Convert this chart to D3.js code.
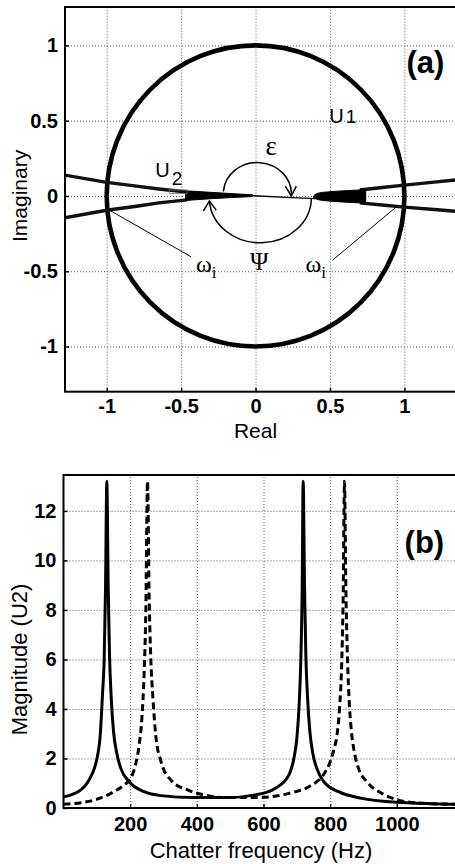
<!DOCTYPE html>
<html>
<head>
<meta charset="utf-8">
<script src="https://cdn.jsdelivr.net/npm/d3@7"></script>
<style>
  body { margin: 0; background: #fff; }
  svg { display: block; }
  text { font-family: "Liberation Sans", Arial, sans-serif; fill: #000; }
  .grid line { stroke: #555; stroke-dasharray: 1,2; stroke-width: 1; }
  .grid path { display: none; }
  .axis path { display: none; }
  .axis line { stroke: #000; stroke-width: 1.5; }
  .axis text { font-size: 20px; font-weight: bold; }
  .greek { font-family: "Liberation Serif", "DejaVu Serif", serif; }
</style>
</head>
<body>
<svg id="fig" width="455" height="864"></svg>
<script>
// ---- panel (a): complex plane ----
const realTicks = [-1, -0.5, 0, 0.5, 1];
const imagTicks = [-1, -0.5, 0, 0.5, 1];
const u1Radius = 1;
// U2 locus, [real, imag]
const u2LeftUpper = [[-1.3, 0.142], [-1.0, 0.09], [-0.8, 0.065], [-0.65, 0.046], [-0.46, 0.026]];
const u2LeftLower = [[-1.3, -0.148], [-1.0, -0.095], [-0.8, -0.068], [-0.65, -0.046], [-0.46, -0.026]];
const u2LeftWedge = [[-0.47, 0.034], [-0.3, 0.024], [-0.15, 0.015], [-0.02, 0.008], [-0.02, -0.004], [-0.15, -0.01], [-0.3, -0.018], [-0.47, -0.03]];
const u2Center = [[-0.02, 0.002], [0.2, -0.01], [0.4, -0.018]];
const u2RightWedge = [[0.39, 0.0], [0.41, 0.016], [0.45, 0.024], [0.55, 0.032], [0.7, 0.04], [0.74, 0.042], [0.74, -0.05], [0.7, -0.046], [0.55, -0.038], [0.45, -0.03], [0.41, -0.022], [0.39, -0.01]];
const u2RightUpper = [[0.7, 0.04], [0.85, 0.056], [1.0, 0.072], [1.2, 0.092], [1.4, 0.112]];
const u2RightLower = [[0.7, -0.046], [0.85, -0.06], [1.0, -0.074], [1.2, -0.09], [1.4, -0.106]];

// ---- panel (b): magnitude vs chatter frequency ----
const freqTicks = [200, 400, 600, 800, 1000];
const magTicks = [0, 2, 4, 6, 8, 10, 12];
const freqSolid = [0, 52, 82, 95, 102, 110, 117, 122, 126, 130, 134, 138, 143, 150, 160, 172, 197, 242, 292, 392, 491, 576, 636, 676, 691, 700, 707, 712, 716, 719, 723, 727, 732, 739, 748, 760, 781, 825, 895, 1005, 1174, 1200];
const magSolid  = [0.45, 0.73, 1.27, 1.7, 2.1, 2.9, 4.6, 6.0, 8.8, 13.2, 9.0, 6.2, 4.5, 3.1, 2.2, 1.6, 1.06, 0.66, 0.5, 0.42, 0.42, 0.53, 0.8, 1.33, 2.0, 2.8, 4.2, 6.0, 8.8, 13.2, 9.0, 6.2, 4.5, 3.1, 2.2, 1.6, 1.06, 0.66, 0.39, 0.23, 0.15, 0.14];
const freqDashed = [0, 92, 142, 182, 202, 215, 227, 235, 242, 247, 252, 257, 262, 268, 277, 292, 322, 372, 421, 491, 576, 676, 745, 776, 800, 812, 820, 828, 834, 839, 843, 847, 851, 856, 863, 872, 885, 910, 955, 1005, 1075, 1174, 1200];
const magDashed  = [0.15, 0.32, 0.59, 0.93, 1.2, 1.7, 2.55, 3.6, 5.5, 8.0, 13.2, 8.5, 6.0, 4.5, 2.9, 1.9, 1.13, 0.73, 0.53, 0.42, 0.42, 0.59, 0.93, 1.27, 1.87, 2.4, 2.9, 4.0, 5.6, 8.5, 13.2, 9.0, 6.5, 4.6, 3.2, 2.3, 1.6, 1.06, 0.59, 0.32, 0.19, 0.15, 0.14];

const svg = d3.select('#fig');

// ================= panel (a) =================
const A = {left: 65, right: 456.5, top: 7, bottom: 391.7};
const xA = d3.scaleLinear().domain([-1.28, 1.35]).range([A.left, A.right]);
const yA = d3.scaleLinear().domain([-1.3, 1.255]).range([A.bottom, A.top]);

svg.append('clipPath').attr('id', 'clipA')
  .append('rect')
  .attr('x', A.left).attr('y', A.top)
  .attr('width', A.right - A.left).attr('height', A.bottom - A.top);

const gA = svg.append('g');
gA.append('g').attr('class', 'grid')
  .attr('transform', `translate(0,${A.bottom})`)
  .call(d3.axisBottom(xA).tickValues(realTicks).tickSize(-(A.bottom - A.top)).tickFormat(''));
gA.append('g').attr('class', 'grid')
  .attr('transform', `translate(${A.left},0)`)
  .call(d3.axisLeft(yA).tickValues(imagTicks).tickSize(-(A.right - A.left)).tickFormat(''));

const plotA = gA.append('g').attr('clip-path', 'url(#clipA)');
const lineA = d3.line().x(d => xA(d[0])).y(d => yA(d[1]));

// U1: unit circle
plotA.append('ellipse')
  .attr('cx', xA(0)).attr('cy', yA(0))
  .attr('rx', xA(u1Radius) - xA(0)).attr('ry', yA(0) - yA(u1Radius))
  .attr('fill', 'none').attr('stroke', '#000').attr('stroke-width', 4.6);

// U2 branches
[u2LeftUpper, u2LeftLower, u2RightUpper, u2RightLower].forEach(pts => {
  plotA.append('path')
    .attr('d', lineA(pts))
    .attr('fill', 'none').attr('stroke', '#111').attr('stroke-width', 3.4);
});
[u2LeftWedge, u2RightWedge].forEach(pts => {
  plotA.append('path')
    .attr('d', d3.line().x(d => xA(d[0])).y(d => yA(d[1])).curve(d3.curveLinearClosed)(pts))
    .attr('fill', '#000').attr('stroke', '#000').attr('stroke-width', 1);
});
plotA.append('path')
  .attr('d', lineA(u2Center))
  .attr('fill', 'none').attr('stroke', '#000').attr('stroke-width', 1.3);

// small box beside U2 label
plotA.append('rect')
  .attr('x', xA(-0.58)).attr('y', yA(0.04))
  .attr('width', xA(-0.46) - xA(-0.58)).attr('height', yA(0.017) - yA(0.04))
  .attr('fill', 'none').attr('stroke', '#777').attr('stroke-width', 0.8);

// epsilon and psi arcs with arrow heads
const arc = (from, to, rx, ry) => {
  const p0 = [xA(from[0]), yA(from[1])];
  const p1 = [xA(to[0]), yA(to[1])];
  const prx = xA(rx) - xA(0), pry = yA(0) - yA(ry);
  return `M${p0[0]},${p0[1]} A${prx},${pry} 0 0,1 ${p1[0]},${p1[1]}`;
};
plotA.append('path')
  .attr('d', arc([-0.216, 0.03], [0.24, 0.0], 0.228, 0.206))
  .attr('fill', 'none').attr('stroke', '#000').attr('stroke-width', 1.5);
plotA.append('path')
  .attr('d', lineA([[0.2, 0.065], [0.24, 0.0], [0.274, 0.065]]))
  .attr('fill', 'none').attr('stroke', '#000').attr('stroke-width', 1.5);
plotA.append('path')
  .attr('d', arc([0.375, -0.015], [-0.31, -0.034], 0.343, 0.30))
  .attr('fill', 'none').attr('stroke', '#000').attr('stroke-width', 1.5);
plotA.append('path')
  .attr('d', lineA([[-0.351, -0.1], [-0.31, -0.034], [-0.264, -0.094]]))
  .attr('fill', 'none').attr('stroke', '#000').attr('stroke-width', 1.5);

// omega pointers
plotA.append('path')
  .attr('d', lineA([[-0.433, -0.404], [-0.982, -0.094]]))
  .attr('fill', 'none').attr('stroke', '#000').attr('stroke-width', 1);
plotA.append('path')
  .attr('d', lineA([[0.518, -0.426], [0.955, -0.065]]))
  .attr('fill', 'none').attr('stroke', '#000').attr('stroke-width', 1);

// labels in panel (a)
const greek = (txt, x, y, size, anchor) => gA.append('text')
  .attr('class', 'greek')
  .attr('x', xA(x)).attr('y', yA(y))
  .attr('text-anchor', anchor || 'middle')
  .style('font-size', size + 'px')
  .text(txt);
greek('ε', 0.105, 0.27, 27);
greek('Ψ', 0.025, -0.49, 25);
const omega = (x) => {
  const t = gA.append('text').attr('class', 'greek')
    .attr('x', xA(x)).attr('y', yA(-0.505))
    .style('font-size', '24px');
  t.append('tspan').text('ω');
  t.append('tspan').attr('dy', 6).style('font-size', '17px').text('i');
};
omega(-0.40);
omega(0.335);

const uLabel = (x, y, sub, dy) => {
  const t = gA.append('text')
    .attr('x', xA(x)).attr('y', yA(y))
    .style('font-size', '20px');
  t.append('tspan').text('U');
  t.append('tspan').attr('dx', 2).attr('dy', dy).style('font-size', '19px').text(sub);
};
uLabel(0.496, 0.484, '1', 0);
uLabel(-0.673, 0.125, '2', 8);

gA.append('text')
  .attr('x', xA(1.268)).attr('y', yA(0.816))
  .attr('text-anchor', 'end')
  .style('font-size', '31px').style('font-weight', 'bold')
  .text('(a)');

// frame + axes of (a)
gA.append('rect')
  .attr('x', A.left).attr('y', A.top)
  .attr('width', A.right - A.left).attr('height', A.bottom - A.top)
  .attr('fill', 'none').attr('stroke', '#000').attr('stroke-width', 2);
gA.append('g').attr('class', 'axis')
  .attr('transform', `translate(0,${A.bottom})`)
  .call(d3.axisBottom(xA).tickValues(realTicks).tickSize(-4).tickPadding(7).tickFormat(d => String(d)));
gA.append('g').attr('class', 'axis')
  .attr('transform', `translate(${A.left},0)`)
  .call(d3.axisLeft(yA).tickValues(imagTicks).tickSize(-4).tickPadding(7).tickFormat(d => String(d)));

gA.append('text')
  .attr('x', xA(0)).attr('y', 438)
  .attr('text-anchor', 'middle')
  .style('font-size', '21px')
  .text('Real');
gA.append('text')
  .attr('transform', `translate(27,${yA(0)}) rotate(-90)`)
  .attr('text-anchor', 'middle')
  .style('font-size', '21px')
  .text('Imaginary');

// ================= panel (b) =================
const B = {left: 63.5, right: 463.5, top: 475, bottom: 808};
const xB = d3.scaleLinear().domain([0, 1200]).range([B.left, B.right]);
const yB = d3.scaleLinear().domain([0, 13.45]).range([B.bottom, B.top]);

const gB = svg.append('g');
gB.append('g').attr('class', 'grid')
  .attr('transform', `translate(0,${B.bottom})`)
  .call(d3.axisBottom(xB).tickValues(freqTicks).tickSize(-(B.bottom - B.top)).tickFormat(''));
gB.append('g').attr('class', 'grid')
  .attr('transform', `translate(${B.left},0)`)
  .call(d3.axisLeft(yB).tickValues(magTicks).tickSize(-(B.right - B.left)).tickFormat(''));

const lineB = d3.line()
  .curve(d3.curveMonotoneX)
  .x(d => xB(d[0]))
  .y(d => yB(d[1]));
gB.append('path')
  .datum(d3.zip(freqDashed, magDashed))
  .attr('d', lineB)
  .attr('fill', 'none').attr('stroke', '#000')
  .attr('stroke-width', 3).attr('stroke-dasharray', '7,4');
gB.append('path')
  .datum(d3.zip(freqSolid, magSolid))
  .attr('d', lineB)
  .attr('fill', 'none').attr('stroke', '#000')
  .attr('stroke-width', 3);

gB.append('text')
  .attr('x', xB(1142)).attr('y', yB(10.3))
  .attr('text-anchor', 'end')
  .style('font-size', '31px').style('font-weight', 'bold')
  .text('(b)');

gB.append('rect')
  .attr('x', B.left).attr('y', B.top)
  .attr('width', B.right - B.left).attr('height', B.bottom - B.top)
  .attr('fill', 'none').attr('stroke', '#000').attr('stroke-width', 2);
gB.append('g').attr('class', 'axis')
  .attr('transform', `translate(0,${B.bottom})`)
  .call(d3.axisBottom(xB).tickValues(freqTicks).tickSize(-4).tickPadding(9).tickFormat(d => String(d)));
gB.append('g').attr('class', 'axis')
  .attr('transform', `translate(${B.left},0)`)
  .call(d3.axisLeft(yB).tickValues(magTicks).tickSize(-4).tickPadding(7).tickFormat(d => String(d)));

gB.append('text')
  .attr('x', 261).attr('y', 858)
  .attr('text-anchor', 'middle')
  .style('font-size', '22px')
  .text('Chatter frequency (Hz)');
gB.append('text')
  .attr('transform', `translate(27,${yB(6.0)}) rotate(-90)`)
  .attr('text-anchor', 'middle')
  .style('font-size', '22px')
  .text('Magnitude (U2)');
</script>
</body>
</html>
